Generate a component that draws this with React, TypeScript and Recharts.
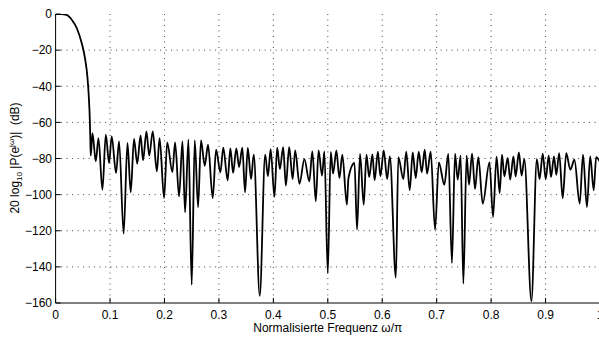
import React from "react";
import { LineChart, Line, XAxis, YAxis, CartesianGrid } from "recharts";

// Normalised frequency (ω/π) of the traced points: main lobe, then alternating sidelobe peaks and nulls
const freq: number[] = [
  0, 0.01, 0.02, 0.03, 0.039, 0.048, 0.054, 0.0584, 0.061, 0.063, 0.0638, 0.0646,
  0.0677, 0.0738, 0.0787, 0.086, 0.0922, 0.0983, 0.103, 0.111, 0.1166, 0.125,
  0.132, 0.138, 0.144, 0.15, 0.156, 0.1607, 0.1668, 0.172, 0.1785, 0.186,
  0.191, 0.1993, 0.205, 0.2145, 0.2195, 0.2268, 0.233, 0.2378, 0.244, 0.25,
  0.2556, 0.2617, 0.267, 0.274, 0.28, 0.2886, 0.2948, 0.3027, 0.308, 0.316,
  0.321, 0.326, 0.332, 0.337, 0.343, 0.348, 0.353, 0.359, 0.364, 0.375,
  0.385, 0.39, 0.395, 0.402, 0.407, 0.412, 0.418, 0.423, 0.429, 0.4355,
  0.44, 0.448, 0.457, 0.466, 0.4716, 0.478, 0.483, 0.4894, 0.4937, 0.5,
  0.5054, 0.5097, 0.5158, 0.5213, 0.5267, 0.535, 0.538, 0.549, 0.5537, 0.5592,
  0.566, 0.571, 0.576, 0.582, 0.586, 0.592, 0.5966, 0.6028, 0.609, 0.614,
  0.625, 0.6296, 0.6388, 0.644, 0.6505, 0.656, 0.6615, 0.667, 0.6725, 0.678,
  0.6823, 0.689, 0.697, 0.704, 0.714, 0.7214, 0.728, 0.7337, 0.7386, 0.744,
  0.749, 0.755, 0.7594, 0.765, 0.7704, 0.7765, 0.7846, 0.797, 0.8035, 0.81,
  0.8157, 0.82, 0.8243, 0.8305, 0.835, 0.841, 0.845, 0.851, 0.856, 0.861,
  0.874, 0.884, 0.889, 0.8948, 0.9003, 0.9058, 0.91, 0.9155, 0.9197, 0.925,
  0.9315, 0.938, 0.9455, 0.953, 0.9627, 0.9688, 0.976, 0.982, 0.9884, 0.993,
  1.0,
];

// Magnitude in dB, one value per frequency above
const magDb: number[] = [
  0, -0.05, -0.5, -3.3, -7.9, -16.2, -24.5, -34.7, -45.8, -60, -70, -78.4,
  -65.9, -81.6, -68.7, -97.3, -66.8, -82.5, -67.7, -88, -70.5, -121.6,
  -71.4, -98.7, -69.2, -82.9, -67.2, -81, -65, -78.4, -65, -87.1,
  -68.7, -101.9, -71.1, -87.5, -71.1, -101, -70.5, -109.8, -69.6, -149.9,
  -70, -106.9, -70, -84, -72.4, -101.9, -75.1, -87.7, -74, -92.1,
  -74.4, -88, -74.4, -84.7, -74, -98.7, -74.2, -91.4, -77.9, -156,
  -77.9, -89.9, -74.8, -101.3, -74, -85.8, -73.7, -95, -73.7, -91.4,
  -75.5, -94, -80.3, -92.7, -76, -103.7, -75.5, -89.5, -76, -143.4,
  -76.4, -88.4, -75.5, -90.8, -77.9, -105.6, -90.8, -82.5, -119.4, -77.5,
  -105.6, -77.9, -90.3, -77.7, -92.1, -76.2, -89.9, -75.5, -91.4, -78.8,
  -146, -79.2, -91.4, -76.2, -97.6, -76.6, -90.8, -76.2, -87.7, -75.1,
  -88.4, -76.2, -119.4, -82.1, -94.5, -77.5, -137.9, -77.3, -91.7, -78.4,
  -149.3, -78.4, -94.5, -77.3, -96.9, -79.2, -105, -82.1, -112.4, -79,
  -99.1, -77.9, -89.9, -79.7, -91.7, -78.8, -89.9, -76.6, -89.5, -80.3,
  -159, -80.3, -91.4, -77.3, -91.4, -78.4, -90.3, -78.8, -89, -77,
  -102, -77, -86.2, -80.7, -105, -77.9, -106.9, -78.8, -97.6, -79.2,
  -82,
];

const xTicks: number[] = [0, 0.1, 0.2, 0.3, 0.4, 0.5, 0.6, 0.7, 0.8, 0.9, 1];
const yTicks: number[] = [-160, -140, -120, -100, -80, -60, -40, -20, 0];

const xLabel = "Normalisierte Frequenz ω/π";

const data = freq.map((f, i) => ({ f, mag: magDb[i] }));

const FONT = "'Liberation Sans', Arial, Helvetica, sans-serif";
const tickStyle = { fill: "#000", fontSize: 12, fontFamily: FONT };

const W = 600;
const H = 338;

export default function App() {
  return (
    <div style={{ position: "absolute", left: 0, top: 0, width: W, height: H, background: "#fff" }}>
      <LineChart
        width={W}
        height={H}
        data={data}
        margin={{ top: 14, right: 0, bottom: 0, left: 0 }}
      >
        <CartesianGrid
          xAxisId="bottom"
          yAxisId="left"
          stroke="#444"
          strokeDasharray="1 4.5"
          horizontalValues={yTicks.slice(1, -1)}
          verticalValues={xTicks.slice(1, -1)}
        />
        <XAxis
          xAxisId="bottom"
          dataKey="f"
          type="number"
          domain={[0, 1]}
          ticks={xTicks}
          interval={0}
          height={35}
          tickSize={-5}
          tickMargin={12.5}
          stroke="#000"
          tick={tickStyle}
          tickFormatter={(v: number) => String(v)}
          allowDataOverflow
        />
        <XAxis
          xAxisId="top"
          orientation="top"
          dataKey="f"
          type="number"
          domain={[0, 1]}
          ticks={xTicks}
          interval={0}
          height={0}
          tickSize={-5}
          stroke="#000"
          tick={false}
          allowDataOverflow
        />
        <YAxis
          yAxisId="left"
          type="number"
          domain={[-160, 0]}
          ticks={yTicks}
          interval={0}
          width={55.6}
          tickSize={-5}
          tickMargin={8.6}
          stroke="#000"
          tick={tickStyle}
          tickFormatter={(v: number) => String(v).replace("-", "\u2212")}
          allowDataOverflow
        />
        <YAxis
          yAxisId="right"
          orientation="right"
          type="number"
          domain={[-160, 0]}
          ticks={yTicks}
          interval={0}
          width={0}
          tickSize={-5}
          stroke="#000"
          tick={false}
          allowDataOverflow
        />
        <Line
          xAxisId="bottom"
          yAxisId="left"
          dataKey="mag"
          type="monotone"
          stroke="#000"
          strokeWidth={1.8}
          dot={false}
          activeDot={false}
          isAnimationActive={false}
        />
      </LineChart>
      <svg
        width={W}
        height={H}
        style={{ position: "absolute", left: 0, top: 0, pointerEvents: "none" }}
      >
        <text
          x={327.8}
          y={331.5}
          textAnchor="middle"
          fontSize={12}
          fontFamily={FONT}
          fill="#000"
        >
          {xLabel}
        </text>
        <text
          transform="rotate(-90)"
          x={-158}
          y={18.5}
          textAnchor="middle"
          fontSize={12}
          fontFamily={FONT}
          fill="#000"
          style={{ whiteSpace: "pre" }}
        >
          20 log
          <tspan dy={3} fontSize={8}>10</tspan>
          <tspan dy={-3}> |P(e</tspan>
          <tspan dy={-5} fontSize={8}>jω</tspan>
          <tspan dy={5}>)|  (dB)</tspan>
        </text>
      </svg>
    </div>
  );
}
